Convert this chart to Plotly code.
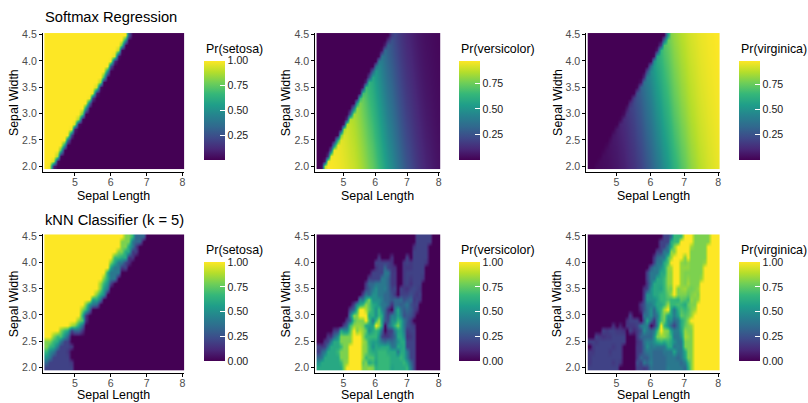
import numpy as np
import plotly.graph_objects as go

# Edgar Anderson's iris data (R `iris`, rows 1-150): sepal measurements in cm
sepal_length = [
    5.1, 4.9, 4.7, 4.6, 5.0, 5.4, 4.6, 5.0, 4.4, 4.9,
    5.4, 4.8, 4.8, 4.3, 5.8, 5.7, 5.4, 5.1, 5.7, 5.1,
    5.4, 5.1, 4.6, 5.1, 4.8, 5.0, 5.0, 5.2, 5.2, 4.7,
    4.8, 5.4, 5.2, 5.5, 4.9, 5.0, 5.5, 4.9, 4.4, 5.1,
    5.0, 4.5, 4.4, 5.0, 5.1, 4.8, 5.1, 4.6, 5.3, 5.0,
    7.0, 6.4, 6.9, 5.5, 6.5, 5.7, 6.3, 4.9, 6.6, 5.2,
    5.0, 5.9, 6.0, 6.1, 5.6, 6.7, 5.6, 5.8, 6.2, 5.6,
    5.9, 6.1, 6.3, 6.1, 6.4, 6.6, 6.8, 6.7, 6.0, 5.7,
    5.5, 5.5, 5.8, 6.0, 5.4, 6.0, 6.7, 6.3, 5.6, 5.5,
    5.5, 6.1, 5.8, 5.0, 5.6, 5.7, 5.7, 6.2, 5.1, 5.7,
    6.3, 5.8, 7.1, 6.3, 6.5, 7.6, 4.9, 7.3, 6.7, 7.2,
    6.5, 6.4, 6.8, 5.7, 5.8, 6.4, 6.5, 7.7, 7.7, 6.0,
    6.9, 5.6, 7.7, 6.3, 6.7, 7.2, 6.2, 6.1, 6.4, 7.2,
    7.4, 7.9, 6.4, 6.3, 6.1, 7.7, 6.3, 6.4, 6.0, 6.9,
    6.7, 6.9, 5.8, 6.8, 6.7, 6.7, 6.3, 6.5, 6.2, 5.9,
]
sepal_width = [
    3.5, 3.0, 3.2, 3.1, 3.6, 3.9, 3.4, 3.4, 2.9, 3.1,
    3.7, 3.4, 3.0, 3.0, 4.0, 4.4, 3.9, 3.5, 3.8, 3.8,
    3.4, 3.7, 3.6, 3.3, 3.4, 3.0, 3.4, 3.5, 3.4, 3.2,
    3.1, 3.4, 4.1, 4.2, 3.1, 3.2, 3.5, 3.6, 3.0, 3.4,
    3.5, 2.3, 3.2, 3.5, 3.8, 3.0, 3.8, 3.2, 3.7, 3.3,
    3.2, 3.2, 3.1, 2.3, 2.8, 2.8, 3.3, 2.4, 2.9, 2.7,
    2.0, 3.0, 2.2, 2.9, 2.9, 3.1, 3.0, 2.7, 2.2, 2.5,
    3.2, 2.8, 2.5, 2.8, 2.9, 3.0, 2.8, 3.0, 2.9, 2.6,
    2.4, 2.4, 2.7, 2.7, 3.0, 3.4, 3.1, 2.3, 3.0, 2.5,
    2.6, 3.0, 2.6, 2.3, 2.7, 3.0, 2.9, 2.9, 2.5, 2.8,
    3.3, 2.7, 3.0, 2.9, 3.0, 3.0, 2.5, 2.9, 2.5, 3.6,
    3.2, 2.7, 3.0, 2.5, 2.8, 3.2, 3.0, 3.8, 2.6, 2.2,
    3.2, 2.8, 2.8, 2.7, 3.3, 3.2, 2.8, 3.0, 2.8, 3.0,
    2.8, 3.8, 2.8, 2.8, 2.6, 3.0, 3.4, 3.1, 3.0, 3.1,
    3.1, 3.1, 2.7, 3.2, 3.3, 3.0, 2.5, 3.0, 3.4, 3.0,
]
species = ["setosa"] * 50 + ["versicolor"] * 50 + ["virginica"] * 50
classes = ["setosa", "versicolor", "virginica"]

row_titles = ["Softmax Regression", "kNN Classifier (k = 5)"]
x_ticks = [5, 6, 7, 8]
y_ticks = [2.0, 2.5, 3.0, 3.5, 4.0, 4.5]
bar_ticks = [0.0, 0.25, 0.5, 0.75, 1.0]
k_neighbours = 5

# prediction lattice over the sepal plane (0.1 cm steps)
grid_x = np.round(np.arange(42, 81) / 10, 1)
grid_y = np.round(np.arange(20, 46) / 10, 1)
GX, GY = np.meshgrid(grid_x, grid_y)

sl = np.asarray(sepal_length)
sw = np.asarray(sepal_width)
y_idx = np.array([classes.index(s) for s in species])
K = len(classes)
Y1 = np.eye(K)[y_idx]


def fit_softmax(X, y, lam=1e-6, iters=200):
    """Multinomial logistic regression (setosa as reference) by damped Newton."""
    n, d = X.shape
    Y = np.eye(K)[y]
    pen = np.array([0.0] + [1.0] * (d - 1))
    W = np.zeros((K - 1, d))

    def logits(W, A):
        return np.hstack([np.zeros((A.shape[0], 1)), A @ W.T])

    def loss(W):
        eta = logits(W, X)
        m = eta.max(1, keepdims=True)
        lse = (m + np.log(np.exp(eta - m).sum(1, keepdims=True)))[:, 0]
        return -(eta[np.arange(n), y] - lse).sum() + lam * (W ** 2 * pen).sum()

    for _ in range(iters):
        eta = logits(W, X)
        eta -= eta.max(1, keepdims=True)
        P = np.exp(eta)
        P /= P.sum(1, keepdims=True)
        G = (P[:, 1:] - Y[:, 1:]).T @ X + 2 * lam * W * pen
        H = np.zeros(((K - 1) * d, (K - 1) * d))
        for j in range(K - 1):
            for k in range(K - 1):
                w = P[:, j + 1] * ((j == k) - P[:, k + 1])
                blk = X.T @ (X * w[:, None])
                if j == k:
                    blk = blk + 2 * lam * np.diag(pen)
                H[j * d:(j + 1) * d, k * d:(k + 1) * d] = blk
        step = np.linalg.solve(H + 1e-10 * np.eye(H.shape[0]), G.ravel()).reshape(W.shape)
        f0 = loss(W)
        t = 1.0
        while loss(W - t * step) > f0 and t > 1e-10:
            t *= 0.5
        W = W - t * step

    def predict(A):
        eta = logits(W, A)
        eta -= eta.max(1, keepdims=True)
        P = np.exp(eta)
        return P / P.sum(1, keepdims=True)

    return predict


X_train = np.column_stack([np.ones_like(sl), sl, sw])
X_grid = np.column_stack([np.ones(GX.size), GX.ravel(), GY.ravel()])
softmax_prob = fit_softmax(X_train, y_idx)(X_grid)

# kNN vote shares; every point tied with the k-th distance joins the vote
train = np.column_stack([sl, sw])
pts = np.column_stack([GX.ravel(), GY.ravel()])
D2 = ((pts[:, None, :] - train[None, :, :]) ** 2).sum(-1)
dk = np.sort(D2, axis=1)[:, k_neighbours - 1]
votes = (D2 <= dk[:, None] * (1 + 1e-4)).astype(float) @ Y1
knn_prob = votes / votes.sum(1, keepdims=True)

models = [softmax_prob, knn_prob]

# ---- layout geometry (pixels) ----
W_PX, H_PX = 808, 403
x_range = [4.11, 8.05]
y_range = [1.89, 4.53]
col_px = [(43.0, 184.5), (315.7, 440.9), (587.1, 720.7)]
row_px = [(28.4, 169.2), (232.2, 373.0)]
bar_left = [204.0, 460.0, 740.0]
bar_bottom = [156.7, 360.7]
BAR_LEN, BAR_W, BAR_TICK = 99, 20.5, 5
legend_title_y = [44.8, 248.5]
title_y = [12.3, 217.8]
xlab_y = [193.5, 395.0]
ylab_x = [13.5, 286.0, 558.0]

FONT = "Liberation Sans, Arial, Helvetica, sans-serif"


def fx(px):
    return px / W_PX


def fy(py):
    return 1 - py / H_PX


fig = go.Figure()
annotations = []
shapes = []
layout_axes = {}
for r in range(2):
    for c in range(3):
        idx = r * 3 + c + 1
        xa = "x" if idx == 1 else f"x{idx}"
        ya = "y" if idx == 1 else f"y{idx}"
        z = models[r][:, c].reshape(GX.shape)
        zmin, zmax = float(z.min()), float(z.max())
        # colour-bar breaks only where they fall inside the data's range
        ticks_in = [v for v in bar_ticks if zmin <= v <= zmax]
        fig.add_trace(go.Heatmap(
            x=grid_x, y=grid_y, z=z, xaxis=xa, yaxis=ya,
            colorscale="Viridis", zsmooth="best", zmin=zmin, zmax=zmax,
            hoverinfo="skip",
            colorbar=dict(
                x=fx(bar_left[c]), xanchor="left", xpad=0,
                y=fy(bar_bottom[r]), yanchor="bottom", ypad=0,
                len=BAR_LEN, lenmode="pixels", thickness=BAR_W, thicknessmode="pixels",
                outlinewidth=0, ticks="inside", ticklen=BAR_TICK, tickcolor="white",
                tickwidth=1,
                tickvals=ticks_in, ticktext=[f"{v:.2f}" for v in ticks_in],
                tickfont=dict(size=10.6, color="#1a1a1a", family=FONT),
            ),
        ))
        # white ticks on the left edge of the colour bar as well
        for v in ticks_in:
            py = bar_bottom[r] - (v - zmin) / (zmax - zmin) * BAR_LEN
            shapes.append(dict(
                type="line", xref="paper", yref="paper",
                x0=fx(bar_left[c]), x1=fx(bar_left[c] + BAR_TICK),
                y0=fy(py), y1=fy(py), line=dict(color="white", width=1)))

        l, rr = col_px[c]
        t, b = row_px[r]
        axis_common = dict(showline=True, linecolor="black", linewidth=1,
                           ticks="outside", ticklen=3, tickcolor="black", tickwidth=1,
                           showgrid=False, zeroline=False,
                           tickfont=dict(size=10.6, color="#4d4d4d", family=FONT))
        layout_axes["xaxis" if idx == 1 else f"xaxis{idx}"] = dict(
            domain=[fx(l), fx(rr)], range=x_range, anchor=ya,
            tickvals=x_ticks, ticktext=[str(v) for v in x_ticks],
            ticklabelstandoff=-3, **axis_common)
        layout_axes["yaxis" if idx == 1 else f"yaxis{idx}"] = dict(
            domain=[fy(b), fy(t)], range=y_range, anchor=xa,
            tickvals=y_ticks, ticktext=[f"{v:.1f}" for v in y_ticks], **axis_common)

        annotations.append(dict(
            text=f"Pr({classes[c]})", xref="paper", yref="paper",
            x=fx(bar_left[c]), y=fy(legend_title_y[r]), xanchor="left", yanchor="middle",
            showarrow=False, font=dict(size=12.4, color="black", family=FONT)))
        annotations.append(dict(
            text="Sepal Length", xref="paper", yref="paper",
            x=fx((l + rr) / 2), y=fy(xlab_y[r]), xanchor="center", yanchor="middle",
            showarrow=False, font=dict(size=12.4, color="black", family=FONT)))
        annotations.append(dict(
            text="Sepal Width", xref="paper", yref="paper", textangle=-90,
            x=fx(ylab_x[c]), y=fy((t + b) / 2), xanchor="center", yanchor="middle",
            showarrow=False, font=dict(size=12.4, color="black", family=FONT)))
    annotations.append(dict(
        text=row_titles[r], xref="paper", yref="paper",
        x=fx(col_px[0][0]), y=fy(title_y[r]), xanchor="left", yanchor="middle",
        showarrow=False, font=dict(size=14.7, color="black", family=FONT)))

fig.update_layout(
    width=W_PX, height=H_PX,
    margin=dict(l=0, r=0, t=0, b=0),
    paper_bgcolor="white", plot_bgcolor="white",
    showlegend=False, annotations=annotations, shapes=shapes,
    font=dict(family=FONT),
    **layout_axes,
)

fig.write_html("out.html")
